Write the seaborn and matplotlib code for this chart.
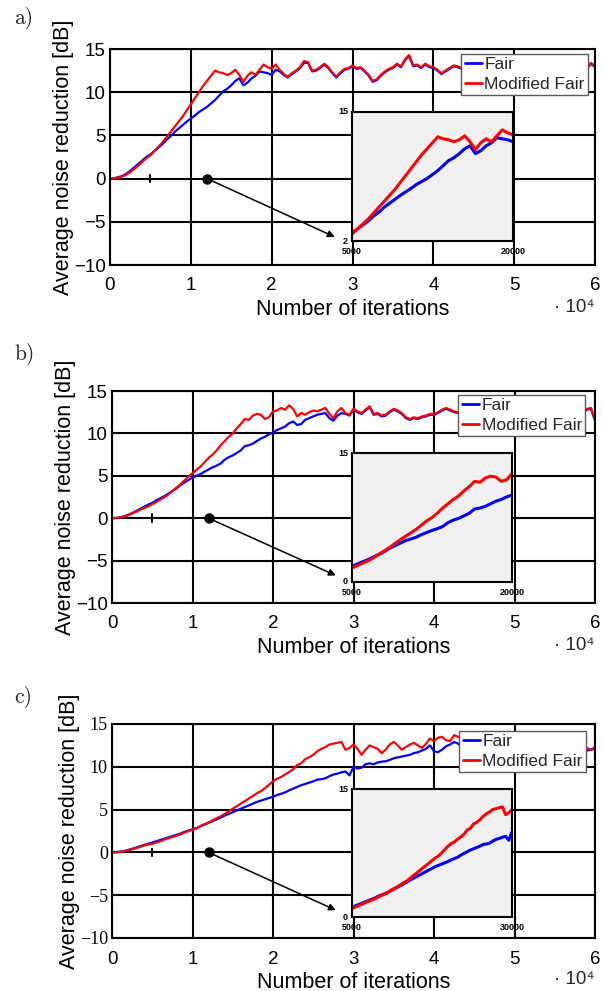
import numpy as np
import pandas as pd
import matplotlib
matplotlib.use('Agg')
import matplotlib.pyplot as plt
import seaborn as sns

# ---------------- data ---------------- #
iterations = np.arange(0, 60001, 500)

fair_a = [0.0, 0.05, 0.15, 0.3, 0.55, 0.9, 1.3, 1.7, 2.1, 2.5,
          2.8, 3.2, 3.6, 4.0, 4.5, 4.9, 5.4, 5.8, 6.2, 6.6,
          6.95, 7.3, 7.7, 8.0, 8.3, 8.7, 9.1, 9.6, 10.1, 10.4,
          10.8, 11.3, 11.6, 10.8, 11.1, 11.6, 11.9, 12.4, 12.3, 12.2,
          12.0, 12.6, 12.4, 12.0, 11.7, 12.1, 12.4, 12.8, 13.4, 13.4,
          12.4, 12.5, 12.8, 13.2, 12.8, 12.2, 11.7, 12.2, 12.6, 12.7,
          13.0, 12.7, 12.8, 12.4, 11.9, 11.2, 11.4, 11.9, 12.3, 12.6,
          12.8, 13.2, 12.9, 13.7, 14.2, 13.0, 13.1, 12.8, 13.2, 12.9,
          12.8, 12.5, 12.1, 12.4, 12.7, 13.0, 12.9, 12.7, 13.1, 12.8,
          12.5, 12.9, 12.7, 13.0, 12.6, 12.8, 13.1, 12.7, 12.4, 12.8,
          12.9, 12.6, 13.0, 12.7, 12.4, 12.8, 13.1, 12.7, 12.5, 12.9,
          12.6, 12.8, 13.0, 12.7, 12.5, 12.8, 13.1, 12.9, 12.7, 13.3,
          12.9]
mod_fair_a = [0.0, 0.03, 0.1, 0.25, 0.45, 0.75, 1.1, 1.5, 1.95, 2.35,
              2.7, 3.2, 3.7, 4.2, 4.8, 5.4, 6.0, 6.6, 7.2, 7.9,
              8.6, 9.3, 10.0, 10.7, 11.3, 11.9, 12.5, 12.3, 12.2, 12.0,
              12.2, 12.6, 12.0, 11.2, 11.9, 12.3, 12.0, 12.6, 13.2, 12.9,
              12.7, 13.2, 12.6, 12.1, 11.8, 12.2, 12.5, 12.9, 13.6, 13.5,
              12.5, 12.6, 12.9, 13.3, 12.9, 12.3, 11.8, 12.3, 12.7, 12.8,
              13.1, 12.8, 12.9, 12.5, 12.0, 11.3, 11.5, 12.0, 12.4, 12.7,
              12.9, 13.3, 13.0, 13.8, 14.3, 13.1, 13.2, 12.9, 13.3, 13.0,
              12.9, 12.6, 12.2, 12.5, 12.8, 13.1, 13.0, 12.8, 13.2, 12.9,
              12.6, 13.0, 12.8, 13.1, 12.7, 12.9, 13.2, 12.8, 12.5, 12.9,
              13.0, 12.7, 13.1, 12.8, 12.5, 12.9, 13.2, 12.8, 12.6, 13.0,
              12.7, 12.9, 13.1, 12.8, 12.6, 12.9, 13.2, 13.0, 12.8, 13.4,
              13.0]

fair_b = [0.0, 0.03, 0.1, 0.22, 0.4, 0.6, 0.85, 1.1, 1.35, 1.6,
          1.8, 2.1, 2.35, 2.6, 2.9, 3.2, 3.5, 3.9, 4.2, 4.5,
          4.8, 5.0, 5.2, 5.5, 5.75, 6.0, 6.2, 6.45, 6.9, 7.2,
          7.4, 7.7, 8.0, 8.5, 8.6, 8.8, 9.1, 9.4, 9.6, 9.9,
          10.1, 10.4, 10.6, 10.8, 11.2, 11.4, 11.0, 11.1, 11.6, 11.8,
          12.0, 12.2, 12.3, 12.4, 11.8, 11.5, 12.1, 12.4, 12.3, 12.1,
          12.8, 12.5, 12.3, 12.7, 13.1, 12.2, 12.3, 12.0, 12.1, 12.5,
          12.8, 12.6, 12.3, 11.8, 11.6, 11.8, 11.7, 11.9, 12.0, 12.2,
          12.2, 12.4, 12.7, 12.9, 12.7, 12.5, 12.4, 12.7, 12.5, 12.3,
          12.6, 12.4, 12.2, 12.5, 12.7, 12.4, 12.1, 12.3, 12.6, 12.4,
          12.2, 12.5, 12.7, 12.4, 12.2, 12.5, 12.3, 12.1, 12.4, 12.6,
          12.3, 12.1, 12.4, 12.6, 12.3, 12.5, 12.7, 12.4, 12.8, 12.9,
          11.5]
mod_fair_b = [0.0, 0.02, 0.08, 0.2, 0.35, 0.55, 0.75, 1.0, 1.2, 1.4,
              1.65, 1.9, 2.2, 2.45, 2.8, 3.2, 3.6, 4.0, 4.45, 4.9,
              5.3, 5.7, 6.1, 6.6, 7.1, 7.5, 8.0, 8.6, 9.1, 9.6,
              10.0, 10.6, 11.1, 11.7, 11.6, 12.1, 12.3, 12.2, 11.7, 11.9,
              12.6, 12.7, 13.0, 12.8, 13.3, 12.9, 12.0, 12.4, 12.2, 12.5,
              12.7, 12.6, 12.8, 13.0, 12.3, 11.8, 12.6, 13.0, 12.4, 12.2,
              12.9, 12.6, 12.4, 12.8, 13.2, 12.3, 12.4, 12.1, 12.2, 12.6,
              12.9, 12.7, 12.4, 11.9, 11.7, 11.9, 11.8, 12.0, 12.1, 12.3,
              12.3, 12.5, 12.8, 13.0, 12.8, 12.6, 12.5, 12.8, 12.6, 12.4,
              12.7, 12.5, 12.3, 12.6, 12.8, 12.5, 12.2, 12.4, 12.7, 12.5,
              12.3, 12.6, 12.8, 12.5, 12.3, 12.6, 12.4, 12.2, 12.5, 12.7,
              12.4, 12.2, 12.5, 12.7, 12.4, 12.6, 12.8, 12.5, 12.9, 13.0,
              11.6]

fair_c = [0.0, 0.03, 0.08, 0.16, 0.28, 0.42, 0.57, 0.72, 0.87, 1.02,
          1.15, 1.3, 1.45, 1.6, 1.75, 1.9, 2.05, 2.2, 2.4, 2.55,
          2.7, 2.85, 3.05, 3.25, 3.45, 3.65, 3.85, 4.05, 4.3, 4.5,
          4.7, 4.9, 5.1, 5.3, 5.5, 5.7, 5.9, 6.05, 6.2, 6.35,
          6.5, 6.7, 6.85, 7.0, 7.25, 7.45, 7.65, 7.85, 8.0, 8.15,
          8.3, 8.5, 8.55, 8.65, 8.9, 9.1, 9.2, 9.35, 9.45, 9.0,
          10.0, 9.8, 9.9, 10.3, 10.4, 10.3, 10.5, 10.6, 10.65, 10.8,
          11.0, 11.1, 11.2, 11.3, 11.4, 11.6, 11.7, 11.9, 12.1, 12.5,
          11.8, 11.7, 12.0, 12.4, 12.6, 12.9, 12.7, 12.2, 12.4, 12.6,
          12.5, 12.7, 12.4, 12.6, 12.3, 12.5, 12.2, 12.4, 12.1, 12.3,
          12.2, 12.0, 12.3, 12.1, 11.9, 12.2, 12.0, 11.8, 12.1, 11.9,
          11.8, 12.0, 11.7, 11.9, 11.6, 11.8, 11.9, 11.7, 11.9, 12.0,
          12.1]
mod_fair_c = [0.0, 0.02, 0.06, 0.13, 0.25, 0.37, 0.5, 0.65, 0.8, 0.93,
              1.0, 1.15, 1.3, 1.5, 1.65, 1.8, 1.95, 2.1, 2.3, 2.5,
              2.65, 2.8, 3.1, 3.3, 3.5, 3.75, 4.0, 4.2, 4.5, 4.8,
              5.1, 5.4, 5.7, 6.0, 6.3, 6.6, 6.9, 7.15, 7.5, 7.9,
              8.3, 8.6, 8.8, 9.1, 9.4, 9.7, 10.2, 10.4, 10.9, 11.1,
              11.4, 11.8, 12.1, 12.3, 12.6, 12.7, 12.8, 12.9, 12.0, 12.2,
              12.6, 12.1, 11.4, 12.0, 12.5, 12.3, 12.1, 11.6, 12.0, 12.6,
              12.9, 12.5, 12.0, 12.3, 12.6, 12.8, 12.5, 12.2, 12.7, 13.3,
              13.0, 13.4, 13.5, 13.1, 13.0, 13.7, 13.5, 13.2, 13.0, 13.3,
              13.1, 12.9, 13.2, 13.0, 12.8, 13.1, 12.9, 12.7, 13.0, 12.8,
              12.6, 12.9, 12.7, 12.5, 12.8, 12.6, 12.4, 12.7, 12.5, 12.3,
              12.6, 12.4, 12.2, 12.5, 12.3, 12.1, 12.4, 12.0, 12.2, 12.0,
              12.3]

x_tick_labels = ['0', '1', '2', '3', '4', '5', '6']
y_ticks = [-10, -5, 0, 5, 10, 15]

# zoom marker on the main axes: bracket ends, dot and arrow target
zoom_bracket = [5000, 20000]
zoom_dot = 12000
arrow_end = (27800, -6.75)

# ---------------- layout (pixel boxes: left, right, top, bottom) ---------------- #
W, H = 604, 991
panels = [
    dict(label='a)', label_y=18, fair=fair_a, mod=mod_fair_a,
         main=(110, 595, 49, 265), inset=(352, 513, 112, 241),
         ixlim=(5000, 20000), iylim=(2, 15), legend_px=(588, 54),
         exp_y=308, serif_y=False),
    dict(label='b)', label_y=354, fair=fair_b, mod=mod_fair_b,
         main=(112, 595, 391, 603), inset=(352, 512, 453, 582),
         ixlim=(5000, 20000), iylim=(0, 15), legend_px=(585, 395),
         exp_y=645, serif_y=False),
    dict(label='c)', label_y=697, fair=fair_c, mod=mod_fair_c,
         main=(112, 595, 724, 938), inset=(352, 512, 789, 917),
         ixlim=(5000, 30000), iylim=(0, 15), legend_px=(586, 731),
         exp_y=979, serif_y=True),
]


def box(l, r, t, b):
    return [l / W, 1 - b / H, (r - l) / W, (b - t) / H]


sns.set_theme(style='white')
plt.rcParams['font.family'] = ['Liberation Sans', 'DejaVu Sans']
plt.rcParams['axes.unicode_minus'] = True

fig = plt.figure(figsize=(W / 100, H / 100), dpi=100)

for p in panels:
    l, r, t, b = p['main']
    ax = fig.add_axes(box(l, r, t, b))
    sns.lineplot(x=iterations, y=p['fair'], color='blue', lw=1.6, label='Fair',
                 ax=ax, estimator=None, errorbar=None)
    sns.lineplot(x=iterations, y=p['mod'], color='red', lw=1.6, label='Modified Fair',
                 ax=ax, estimator=None, errorbar=None)
    ax.set_xlim(0, 60000)
    ax.set_ylim(-10, 15)
    ax.set_xticks(np.arange(0, 60001, 10000))
    ax.set_xticklabels(x_tick_labels)
    ax.set_yticks(y_ticks)
    ax.grid(True, color='black', lw=1.5)
    ax.tick_params(axis='x', length=0, labelsize=13.5, pad=9, colors='black')
    ax.tick_params(axis='y', length=0, labelsize=13.5, pad=3, colors='black')
    if p['serif_y']:
        for tl in ax.get_yticklabels():
            tl.set_fontfamily('Liberation Serif')
            tl.set_fontsize(13)
    for s in ax.spines.values():
        s.set_color('black')
        s.set_linewidth(1.5)
    ax.set_xlabel('Number of iterations', fontsize=15.5, labelpad=3, color='black')
    ax.set_ylabel('Average noise reduction [dB]', fontsize=15.5, labelpad=0, color='black')

    # zoom indicator
    for xb in zoom_bracket:
        ax.plot([xb, xb], [-0.45, 0.45], color='black', lw=1.5, zorder=4)
    ax.plot([zoom_dot], [0], 'o', color='black', ms=6.5, zorder=5)
    ax.annotate('', xy=arrow_end, xytext=(zoom_dot, 0),
                arrowprops=dict(arrowstyle='-|>', color='black', lw=1.1,
                                mutation_scale=10, shrinkA=0, shrinkB=0))

    lx, ly = p['legend_px']
    leg = ax.legend(loc='upper right',
                    bbox_to_anchor=((lx - l) / (r - l), (b - ly) / (b - t)),
                    fontsize=12.5, handlelength=1.0, handletextpad=0.15,
                    borderpad=0.18, labelspacing=0.25, borderaxespad=0,
                    frameon=True, fancybox=False, framealpha=1, edgecolor='0.35')
    leg.get_frame().set_linewidth(1.0)
    for line in leg.get_lines():
        line.set_linewidth(2)

    fig.text(14 / W, 1 - p['label_y'] / H, p['label'], family='cmr10',
             fontsize=15.5, ha='left', va='center')
    fig.text(595 / W, 1 - p['exp_y'] / H, '· 10⁴', fontsize=13.5,
             ha='right', va='center', family=['Liberation Sans', 'DejaVu Sans'])

    # inset
    il, ir, it, ib = p['inset']
    axi = fig.add_axes(box(il, ir, it, ib))
    axi.set_facecolor('#f0f0f0')
    sns.lineplot(x=iterations, y=p['fair'], color='blue', lw=2.2, ax=axi,
                 estimator=None, errorbar=None, legend=False)
    sns.lineplot(x=iterations, y=p['mod'], color='red', lw=2.2, ax=axi,
                 estimator=None, errorbar=None, legend=False)
    axi.set_xlim(*p['ixlim'])
    axi.set_ylim(*p['iylim'])
    axi.set_xticks([])
    axi.set_yticks([])
    axi.set_xlabel('')
    axi.set_ylabel('')
    for s in axi.spines.values():
        s.set_color('black')
        s.set_linewidth(1.5)
    small = dict(fontsize=6.5, fontweight='bold', color='black', transform=axi.transAxes)
    axi.text(-0.025, 1, str(p['iylim'][1]), ha='right', va='center', **small)
    axi.text(-0.025, 0, str(p['iylim'][0]), ha='right', va='center', **small)
    axi.text(0, -0.05, str(p['ixlim'][0]), ha='center', va='top', **small)
    axi.text(1, -0.05, str(p['ixlim'][1]), ha='center', va='top', **small)

fig.savefig('out.png', dpi=100)
